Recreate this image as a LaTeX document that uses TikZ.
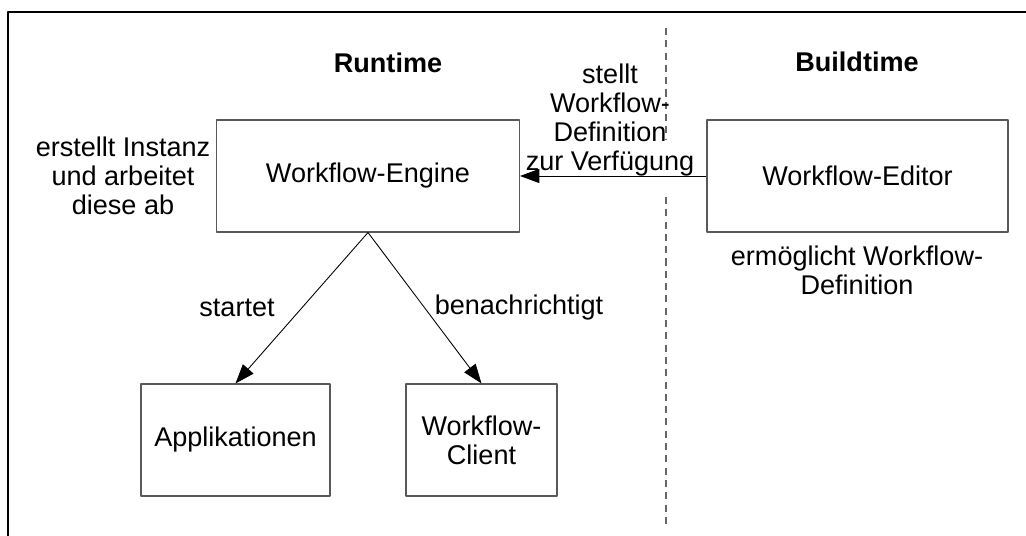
\documentclass[tikz,border=0pt]{standalone}
\usepackage{fontspec}
\setmainfont{Liberation Sans}
\usetikzlibrary{arrows.meta}
\begin{document}
\begin{tikzpicture}[font=\fontsize{15.4}{16.5}\selectfont, line join=round, >={Triangle[length=11pt,width=8pt]},
		box/.style={draw=black!65, line width=0.6pt, minimum height=2.24cm, align=center, inner sep=0pt},
		txt/.style={align=center, inner sep=0pt}]
				\useasboundingbox (0,0) rectangle (20.52,10.72);
				\draw[line width=1.1pt] (0.16,0)--(0.16,10.48)--(20.52,10.48);
				\draw[dash pattern=on 4pt off 3pt, black!60, line width=0.6pt] (13.32,10.16)--(13.32,7.92);
				\draw[dash pattern=on 4pt off 3pt, black!60, line width=0.6pt] (13.32,6.78)--(13.32,0.22);
				\node[txt, font=\fontsize{15.4}{16.5}\selectfont\bfseries] (runtime) at (7.76,9.46) {Runtime};
				\node[txt, font=\fontsize{15.4}{16.5}\selectfont\bfseries] (buildtime) at (17.14,9.48) {Buildtime};
				\node[box, minimum width=6.06cm] (engine) at (7.36,7.20) {Workflow-Engine};
				\node[box, minimum width=6.02cm] (editor) at (17.15,7.20) {Workflow-Editor};
				\node[box, minimum width=3.78cm] (appl) at (4.71,1.92) {Applikationen};
				\node[box, minimum width=3.02cm] (client) at (9.63,1.92) {Workflow-\\Client};
				\node[txt] (instanz) at (2.46,7.20) {erstellt Instanz\\und arbeitet\\diese ab};
				\node[txt] (stellt) at (12.2,8.31) {stellt\\Workflow-\\Definition\\zur Verfügung};
				\node[txt] (ermoeglicht) at (17.14,5.32) {ermöglicht Workflow-\\Definition};
				\node[txt] (startet) at (4.74,4.56) {startet};
				\node[txt] (benachr) at (10.38,4.56) {benachrichtigt};
				\draw[->, line width=0.5pt] (editor)--(engine);
				\draw[->, line width=0.5pt] (engine.south)--(appl.north);
				\draw[->, line width=0.5pt] (engine.south)--(client.north);
		\end{tikzpicture}
\end{document}
